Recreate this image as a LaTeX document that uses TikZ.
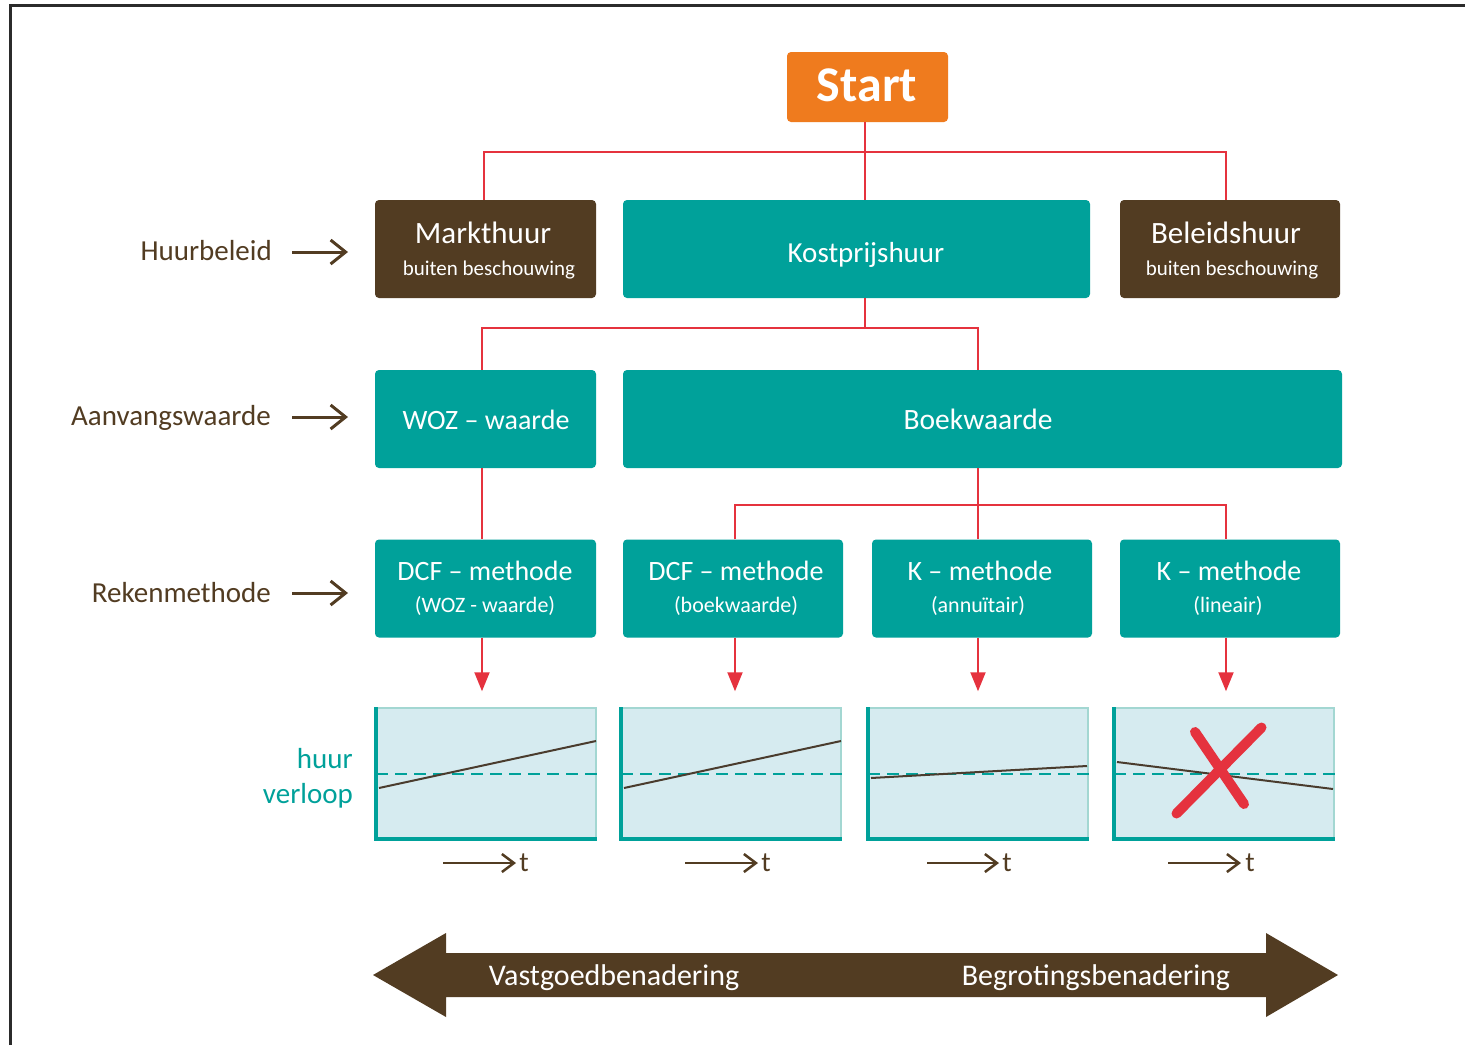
\documentclass[tikz,border=0pt]{standalone}
\usepackage{fontspec}
\setmainfont{Carlito}
\usetikzlibrary{arrows.meta,calc}
\definecolor{teal1}{HTML}{00A19A}
\definecolor{brown1}{HTML}{523C22}
\definecolor{orange1}{HTML}{EF7B1E}
\definecolor{red1}{HTML}{E5323E}
\definecolor{chartfill}{HTML}{D6EBF0}
\definecolor{chartedge}{HTML}{A3D7D2}
\definecolor{trend}{HTML}{4A3C2E}
\definecolor{frame1}{HTML}{2B2B2B}
\newcommand\fsz[1]{\fontsize{#1}{#1}\selectfont}
\begin{document}
\begin{tikzpicture}[x=1pt,y=-1pt,
  box/.style={rectangle, rounded corners=4pt, inner sep=0pt, minimum height=98pt},
  tealbox/.style={box, fill=teal1},
  brownbox/.style={box, fill=brown1},
  startbox/.style={box, fill=orange1, minimum height=70pt, minimum width=161pt},
  wtxt/.style={text=white, inner sep=0pt, anchor=base},
  ltxt/.style={text=brown1, inner sep=0pt, anchor=base east, font=\fsz{29}},
  htxt/.style={text=teal1, inner sep=0pt, anchor=base east, font=\fsz{29}},
  ttxt/.style={text=brown1, inner sep=0pt, anchor=base, font=\fsz{28}},
  redline/.style={draw=red1, line width=2pt},
  redarrow/.style={redline, -{Triangle[length=19pt,width=15pt]}},
  sidearrow/.style={draw=brown1, line width=3pt, -{Straight Barb[length=15pt,width=24pt,line width=3pt]}},
  tarrow/.style={draw=brown1, line width=2.5pt, -{Straight Barb[length=12pt,width=18pt,line width=2.5pt]}},
  chart/.style={rectangle, fill=chartfill, draw=chartedge, line width=1.5pt, inner sep=0pt, minimum width=219pt, minimum height=130pt},
  axis/.style={draw=teal1, line width=4pt},
  baseline/.style={draw=teal1, line width=2.5pt, dash pattern=on 12pt off 7pt},
  trendline/.style={draw=trend, line width=2pt}
]
\useasboundingbox (0,0) rectangle (1465,1045);
\fill[white] (0,0) rectangle (1465,1045);
\draw[frame1, line width=3pt] (10,1045) -- (10,5) -- (1465,5);

% Start
\node[startbox] (start) at (867.5,87) {};
\node[wtxt, font=\bfseries\fsz{50}] (startt) at (867,101) {Start};

% Row 1
\node[brownbox, minimum width=221pt] (markt) at (485.5,249) {};
\node[tealbox, minimum width=467pt] (kost) at (856.5,249) {};
\node[brownbox, minimum width=220pt] (beleid) at (1230,249) {};
\node[wtxt, font=\fsz{31}] (marktt) at (483,243) {Markthuur};
\node[wtxt, font=\fsz{21}] (marktb) at (489,275) {buiten beschouwing};
\node[wtxt, font=\fsz{29}] (kostt) at (866,262) {Kostprijshuur};
\node[wtxt, font=\fsz{31}] (beleidt) at (1226,243) {Beleidshuur};
\node[wtxt, font=\fsz{21}] (beleidb) at (1232,275) {buiten beschouwing};

% Row 2
\node[tealbox, minimum width=221pt] (woz) at (485.5,419) {};
\node[tealbox, minimum width=719pt] (boek) at (982.5,419) {};
\node[wtxt, font=\fsz{28}] (wozt) at (486,429) {WOZ – waarde};
\node[wtxt, font=\fsz{29.5}] (boekt) at (978,429) {Boekwaarde};

% Row 3
\node[tealbox, minimum width=221pt] (dcfa) at (485.5,588.5) {};
\node[tealbox, minimum width=220pt] (dcfb) at (733,588.5) {};
\node[tealbox, minimum width=220pt] (kann) at (982,588.5) {};
\node[tealbox, minimum width=220pt] (klin) at (1230,588.5) {};
\node[wtxt, font=\fsz{28}] (dcfat) at (485,580) {DCF – methode};
\node[wtxt, font=\fsz{22}] (dcfab) at (485,612) {(WOZ - waarde)};
\node[wtxt, font=\fsz{28}] (dcfbt) at (736,580) {DCF – methode};
\node[wtxt, font=\fsz{22}] (dcfbb) at (736,612) {(boekwaarde)};
\node[wtxt, font=\fsz{28}] (kannt) at (980,580) {K – methode};
\node[wtxt, font=\fsz{22}] (kannb) at (978,612) {(annuïtair)};
\node[wtxt, font=\fsz{28}] (klint) at (1229,580) {K – methode};
\node[wtxt, font=\fsz{22}] (klinb) at (1228,612) {(lineair)};

% Tree connectors
\draw[redline] ([xshift=-3pt]start.south) -- ([xshift=-3pt]start.south |- kost.north);
\draw[redline] ([xshift=-1.5pt]markt.north) -- ([xshift=-1.5pt]markt.north |- 0,152) -| ([xshift=-4pt]beleid.north);
\draw[redline] ([xshift=-3pt]start.south |- kost.south) -- ([xshift=-3pt]start.south |- 0,328);
\draw[redline] ([xshift=-3.5pt]woz.north) -- ([xshift=-3.5pt]woz.north |- 0,328) -| ([xshift=-4.5pt]boek.north);
\draw[redline] ([xshift=-3.5pt]woz.south) -- ([xshift=-3.5pt]dcfa.north);
\draw[redline] ([xshift=-4.5pt]boek.south) -- ([xshift=-4pt]kann.north);
\draw[redline] ([xshift=2pt]dcfb.north) -- ([xshift=2pt]dcfb.north |- 0,505) -| ([xshift=-4pt]klin.north);

% Charts
\node[chart] (ca) at (486.5,773) {};
\node[chart] (cb) at (731.5,773) {};
\node[chart] (cc) at (978.5,773) {};
\node[chart] (cd) at (1224.5,773) {};
\foreach \c in {ca,cb,cc,cd}{
  \draw[baseline] ([yshift=-1pt]\c.west) -- ([yshift=-1pt]\c.east);
  \draw[axis] (\c.north west) -- (\c.south west) -- (\c.south east);
}
\draw[trendline] (379,788) -- (596,741);
\draw[trendline] (624,788) -- (841,741);
\draw[trendline] (871,778) -- (1087,766);
\draw[trendline] (1117,762) -- (1333,789);
\draw[red1, line width=10pt, line cap=round] (1195,732) -- (1244,804);
\draw[red1, line width=10pt, line cap=round] (1261.5,727.5) -- (1176.5,813.5);

% Arrows to charts
\draw[redarrow, shorten >=16pt] ([xshift=-3.5pt]dcfa.south) -- ([xshift=-3.5pt]dcfa.south |- ca.north);
\draw[redarrow, shorten >=16pt] ([xshift=2pt]dcfb.south) -- ([xshift=2pt]dcfb.south |- cb.north);
\draw[redarrow, shorten >=16pt] ([xshift=-4pt]kann.south) -- ([xshift=-4pt]kann.south |- cc.north);
\draw[redarrow, shorten >=16pt] ([xshift=-4pt]klin.south) -- ([xshift=-4pt]klin.south |- cd.north);

% time axes
\node[ttxt] (ta) at (524,871) {t};
\node[ttxt] (tb) at (766,871) {t};
\node[ttxt] (tc) at (1007,871) {t};
\node[ttxt] (td) at (1250,871) {t};
\coordinate (tas) at (443,863); \coordinate (tae) at (516,863);
\coordinate (tbs) at (685,863); \coordinate (tbe) at (758,863);
\coordinate (tcs) at (927,863); \coordinate (tce) at (999,863);
\coordinate (tds) at (1168,863); \coordinate (tde) at (1241,863);
\draw[tarrow] (tas) -- (tae);
\draw[tarrow] (tbs) -- (tbe);
\draw[tarrow] (tcs) -- (tce);
\draw[tarrow] (tds) -- (tde);

% Side labels
\node[ltxt] (l1) at (272,260) {Huurbeleid};
\node[ltxt] (l2) at (271,425) {Aanvangswaarde};
\node[ltxt] (l3) at (271,602) {Rekenmethode};
\node[htxt] (h1) at (353,768) {huur};
\node[htxt] (h2) at (353,803) {verloop};
\coordinate (a1s) at (292,252); \coordinate (a1e) at (348,252);
\coordinate (a2s) at (292,417); \coordinate (a2e) at (348,417);
\coordinate (a3s) at (292,593); \coordinate (a3e) at (348,593);
\draw[sidearrow] (a1s) -- (a1e);
\draw[sidearrow] (a2s) -- (a2e);
\draw[sidearrow] (a3s) -- (a3e);

% Bottom double arrow
\fill[brown1] (373,975) -- (446,933) -- (446,953) -- (1266,953) -- (1266,933) -- (1338,975)
  -- (1266,1017) -- (1266,997) -- (446,997) -- (446,1017) -- cycle;
\node[wtxt, font=\fsz{30}] (vast) at (614,985) {Vastgoedbenadering};
\node[wtxt, font=\fsz{30}] (begr) at (1096,985) {Begrotingsbenadering};
\end{tikzpicture}
\end{document}
